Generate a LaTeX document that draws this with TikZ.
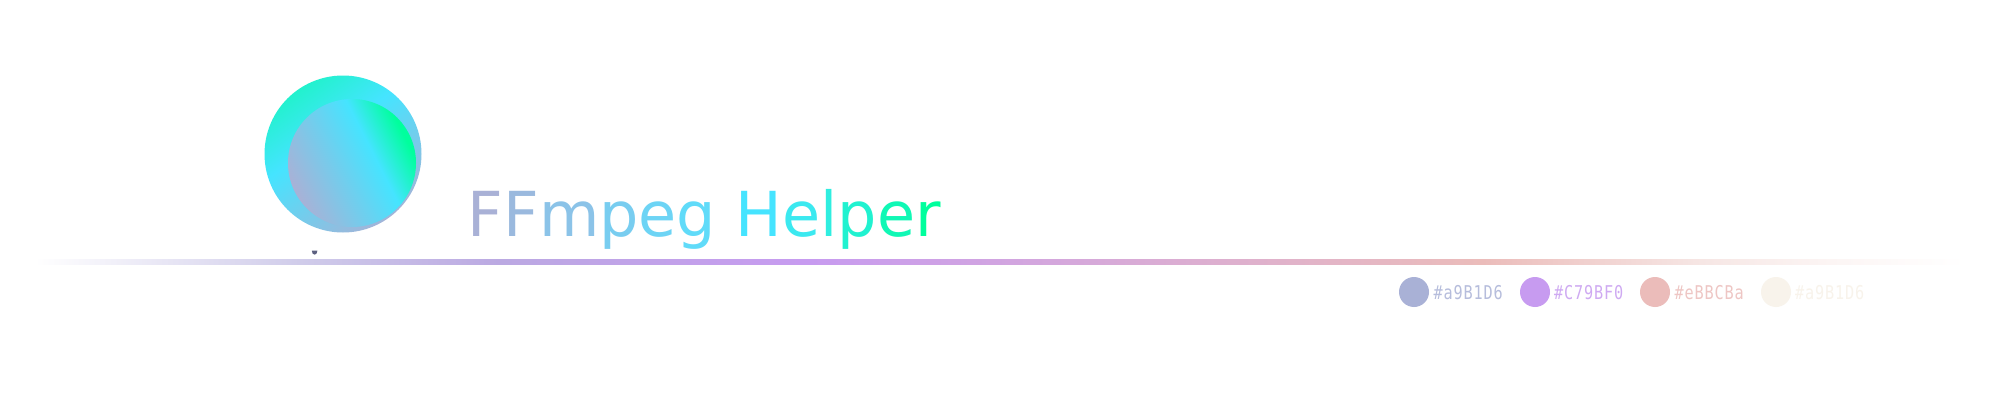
\documentclass[tikz,border=0pt]{standalone}
\usepackage{fontspec}
\setmainfont{DejaVu Sans}
\newfontfamily\swatchfont[FakeStretch=0.8,LetterSpace=4.5]{DejaVu Sans Mono}
\definecolor{lav}{HTML}{A9B1D6}
\definecolor{pur}{HTML}{C79BF0}
\definecolor{ros}{HTML}{EBBCBA}
\definecolor{cre}{HTML}{F8F3EB}
\definecolor{cya}{HTML}{45E4FF}
\definecolor{grn}{HTML}{00FF9D}
\definecolor{ruleA}{HTML}{D0CCEA}
\definecolor{ruleB}{HTML}{BBA9E2}
\definecolor{ruleC}{HTML}{F6E6E4}
\definecolor{ruleD}{HTML}{FCF5F4}
\definecolor{dotcol}{HTML}{5C6080}
\pgfdeclarehorizontalshading{bigshade}{100bp}{color(0bp)=(lav); color(22.5bp)=(lav); color(57.5bp)=(cya); color(92bp)=(grn); color(100bp)=(grn)}
\pgfdeclarehorizontalshading{innershade}{100bp}{color(0bp)=(lav); color(25bp)=(lav); color(59bp)=(cya); color(73bp)=(grn); color(100bp)=(grn)}
\pgfdeclarehorizontalshading{ruleshade}{100bp}{color(0bp)=(white); color(25bp)=(white); color(31.85bp)=(ruleA); color(37bp)=(ruleB); color(45bp)=(pur); color(62.5bp)=(ros); color(68.15bp)=(ruleC); color(71.5bp)=(ruleD); color(75bp)=(white); color(100bp)=(white)}
\tikzset{
  swatch/.style={circle,minimum size=30pt,inner sep=0pt,draw=none},
  swatchlabel/.style={anchor=base west,inner sep=0pt,font=\swatchfont\fontsize{19pt}{19pt}\selectfont},
  title/.style={anchor=base west,inner sep=0pt,font=\fontsize{62pt}{62pt}\selectfont}
}
\begin{document}
\begin{tikzpicture}[x=1pt,y=1pt]
\useasboundingbox (0,0) rectangle (2000,400);
\fill[white] (0,0) rectangle (2000,400);
% 400-y coordinates
\path[shading=bigshade,shading angle=125] (343,246) circle[radius=78.5];
\path[shading=innershade,shading angle=27] (352,237) circle[radius=64];
\fill[dotcol] (311.8,149.3) arc[start angle=180,end angle=360,x radius=2.8,y radius=4] -- cycle;
\path[shading=ruleshade] (35,135.2) rectangle (1965,141);
\node[title] (t) at (467.5,164) {\textcolor[HTML]{A9B1D6}{F}\textcolor[HTML]{9AB9DE}{F}\textcolor[HTML]{8BC3E8}{m}\textcolor[HTML]{78CDF0}{p}\textcolor[HTML]{6DD4F5}{e}\textcolor[HTML]{60DBF9}{g} \textcolor[HTML]{45E4FF}{H}\textcolor[HTML]{3BE9F0}{e}\textcolor[HTML]{2FEEE0}{l}\textcolor[HTML]{20F2D0}{p}\textcolor[HTML]{10F8B5}{e}\textcolor[HTML]{00FF9D}{r}};
\node[swatch,fill=lav] (a) at (1414,108) {};
\node[swatch,fill=pur] (b) at (1535,108) {};
\node[swatch,fill=ros] (c) at (1655,108) {};
\node[swatch,fill=cre] (d) at (1776,108) {};
\node[swatchlabel,text=lav!85!white] (la) at (1433.5,101) {\#a9B1D6};
\node[swatchlabel,text=pur!85!white] (lb) at (1554,101) {\#C79BF0};
\node[swatchlabel,text=ros!85!white] (lc) at (1674.5,101) {\#eBBCBa};
\node[swatchlabel,text=cre] (ld) at (1795,101) {\#a9B1D6};
\end{tikzpicture}
\end{document}
